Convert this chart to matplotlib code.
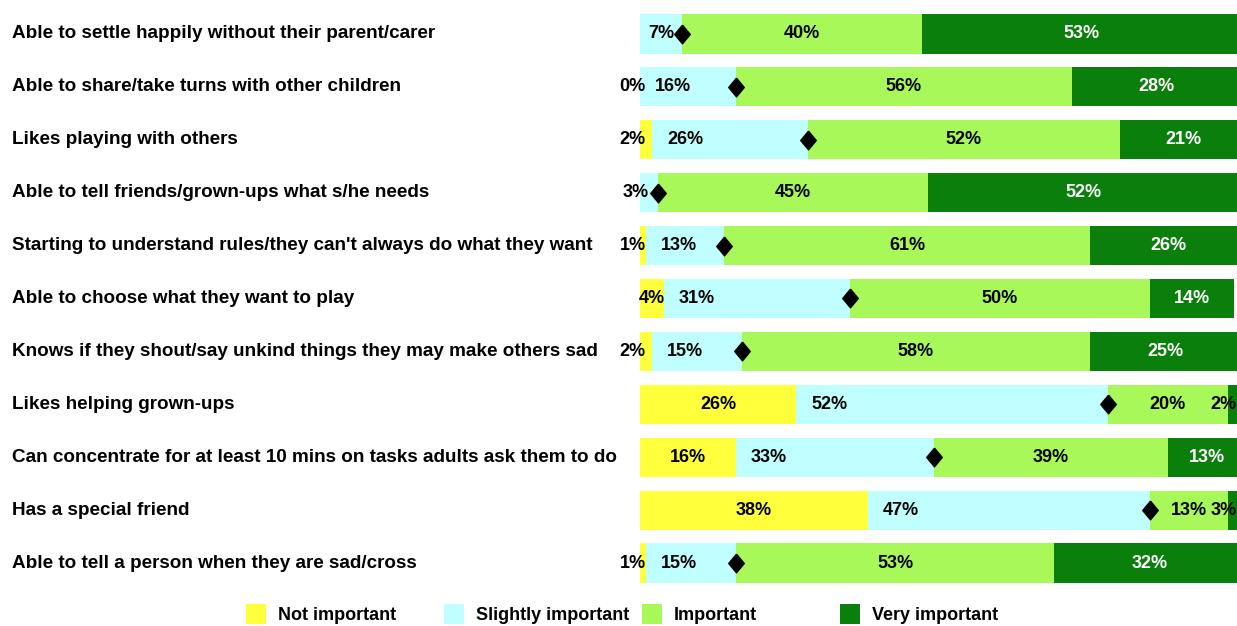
import numpy as np
import matplotlib
matplotlib.use("Agg")
import matplotlib.pyplot as plt
from matplotlib.transforms import blended_transform_factory

W, H = 1237, 626

categories = [
    "Able to settle happily without their parent/carer",
    "Able to share/take turns with other children",
    "Likes playing with others",
    "Able to tell friends/grown-ups what s/he needs",
    "Starting to understand rules/they can't always do what they want",
    "Able to choose what they want to play",
    "Knows if they shout/say unkind things they may make others sad",
    "Likes helping grown-ups",
    "Can concentrate for at least 10 mins on tasks adults ask them to do",
    "Has a special friend",
    "Able to tell a person when they are sad/cross",
]
series_names = ["Not important", "Slightly important", "Important", "Very important"]
not_important = [np.nan, 0, 2, np.nan, 1, 4, 2, 26, 16, 38, 1]
slightly_important = [7, 16, 26, 3, 13, 31, 15, 52, 33, 47, 15]
important = [40, 56, 52, 45, 61, 50, 58, 20, 39, 13, 53]
very_important = [53, 28, 21, 52, 26, 14, 25, 2, 13, 3, 32]

colors = ["#FFFF3C", "#C0FFFF", "#A8F85A", "#0A7F0C"]
text_colors = ["black", "black", "black", "white"]
FONT = ["Liberation Sans", "DejaVu Sans"]
LBL = dict(fontsize=13, fontweight="bold", family=FONT)

fig = plt.figure(figsize=(W / 100, H / 100), dpi=100)
ax = fig.add_axes([640 / W, 1 - 589.5 / H, 600 / W, 582 / H])

series = [np.array(not_important, float), np.array(slightly_important, float),
          np.array(important, float), np.array(very_important, float)]
y = np.arange(len(categories))
left = np.zeros(len(categories))
containers = []
diamond = [(0, 1), (0.83, 0), (0, -1), (-0.83, 0), (0, 1)]
for s, (vals, name, col) in enumerate(zip(series, series_names, colors)):
    v = np.nan_to_num(vals)
    c = ax.barh(y, v, left=left, height=0.74, color=col, label=name, edgecolor="none")
    containers.append(c)
    for i in range(len(categories)):
        if np.isnan(vals[i]):
            continue
        txt = f"{int(round(vals[i]))}%"
        if s == 0 and vals[i] <= 2:
            ax.text(1.0, i, txt, ha="right", va="center", color="black", clip_on=False, **LBL)
        elif s == 1 and vals[i] <= 3:
            ax.text(left[i] + 1.5, i, txt, ha="right", va="center", color="black",
                    clip_on=False, **LBL)
        elif s == 1:
            ax.text(left[i] + min(vals[i] / 2, 5.5), i, txt, ha="center", va="center",
                    color="black", **LBL)
        elif s == 3 and vals[i] <= 3:
            ax.text(99.4, i, txt, ha="right", va="center", color="black", **LBL)
        else:
            ax.text(left[i] + v[i] / 2, i, txt, ha="center", va="center",
                    color=text_colors[s], **LBL)
    left = left + v
    if s == 1:
        ax.plot(left, y, linestyle="none", marker=diamond, markersize=13.5,
                color="black", zorder=5, clip_on=False)

ax.set_xlim(0, 100)
ax.set_ylim(len(categories) - 0.5, -0.5)
ax.axis("off")

trans = blended_transform_factory(fig.transFigure, ax.transData)
for i, cat in enumerate(categories):
    ax.text(12 / W, i, cat, transform=trans, ha="left", va="center",
            fontsize=13.6, fontweight="bold", family=FONT, color="black")

for k, (c, name) in enumerate(zip(containers, series_names)):
    fig.legend([c], [name], loc="center left",
               bbox_to_anchor=((246 + 198 * k) / W, 1 - 614 / H),
               frameon=False, handlelength=1.1, handleheight=1.35, handletextpad=0.65,
               borderpad=0, borderaxespad=0,
               prop=dict(family=FONT, weight="bold", size=13))

fig.savefig("out.png", dpi=100)
